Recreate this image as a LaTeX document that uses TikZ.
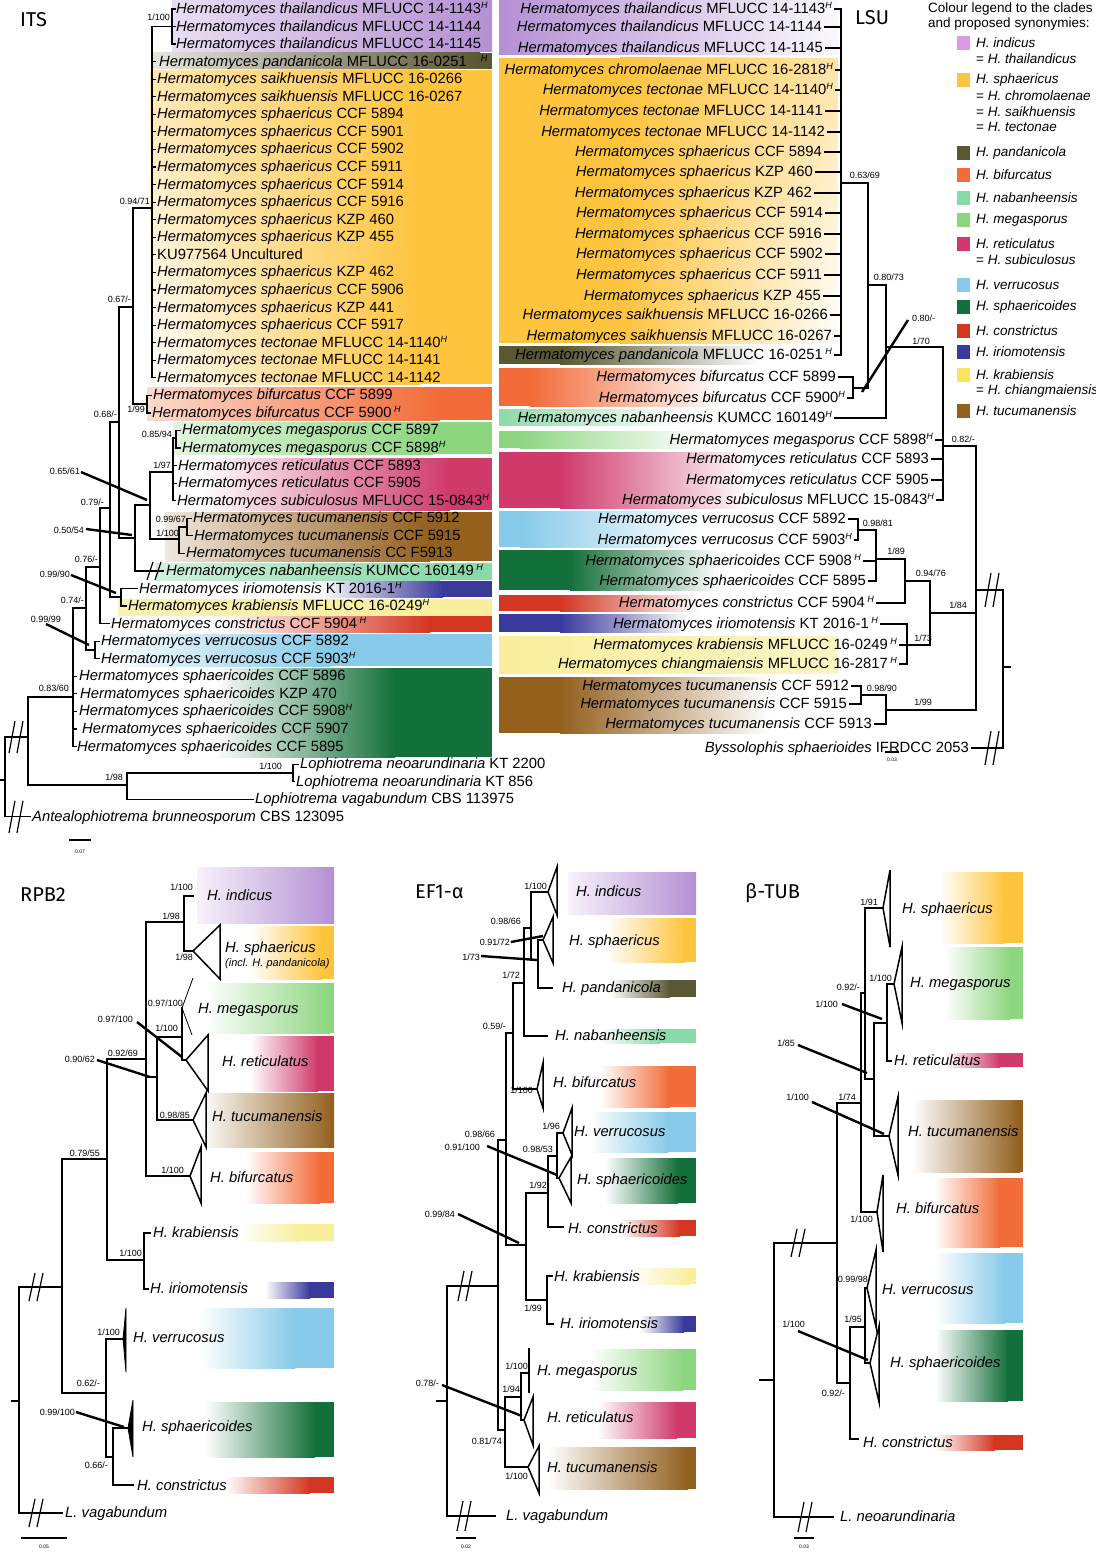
\documentclass[tikz,border=0pt]{standalone}
\usepackage{fontspec}
\setmainfont{Liberation Sans}
\newfontfamily\ttlfont{Fira Sans}
\usetikzlibrary{fadings}
\definecolor{cInd}{HTML}{B490D4}
\definecolor{sInd}{HTML}{D99BE3}
\definecolor{cSph}{HTML}{FFC43D}
\definecolor{cPan}{HTML}{5A5733}
\definecolor{cBif}{HTML}{F26B38}
\definecolor{cNab}{HTML}{8BD9A9}
\definecolor{cMeg}{HTML}{8DD680}
\definecolor{cRet}{HTML}{CF3A6B}
\definecolor{cVer}{HTML}{87CAE9}
\definecolor{cSco}{HTML}{14703B}
\definecolor{cCon}{HTML}{D43621}
\definecolor{cIri}{HTML}{3A3A9D}
\definecolor{cKra}{HTML}{F8EE9C}
\definecolor{sKra}{HTML}{F9E45C}
\definecolor{cTuc}{HTML}{93601E}
\newcommand\tipf{\fontsize{14.8}{16}\selectfont}
\newcommand\supf{\fontsize{9}{10}\selectfont}
\newcommand\Hs{\raisebox{5pt}{\fontsize{9}{9}\selectfont\itshape H}}
\newcommand\Hm[1]{\textit{Hermatomyces #1}}
\newcommand\gbox[8]{%
  \fill[#7] (#1,#2) rectangle (#5+0.6,#4);
  \shade[left color=#7,right color=#8] (#5,#2) rectangle (#6,#4);
  \fill[#8] (#6-0.6,#2) rectangle (#3,#4);}
\newcommand\brk[3]{\draw[line width=1.2pt] (#1-7,#2+#3) -- (#1-1,#2-#3) (#1+1,#2+#3) -- (#1+7,#2-#3);}
\newcommand\tw[4]{\node[tipx,anchor=west] (#1) at (#2,#3) {#4};}
\newcommand\te[4]{\node[tipx,anchor=east] (#1) at (#2,#3) {#4};}
\newcommand\sv[4]{\node[supv,anchor=east] (#1) at (#2,#3) {#4};}
\begin{document}
\begin{tikzpicture}[x=1pt,y=-1pt,
 tipx/.style={font=\tipf,inner sep=0pt,text height=11pt,text depth=2pt},
 supv/.style={font=\supf,inner sep=0pt,text height=6.5pt,text depth=0pt},
 ttl/.style={font=\ttlfont\fontsize{20}{22}\selectfont,inner sep=0pt},
 lgt/.style={font=\fontsize{13.5}{15}\selectfont,inner sep=0pt},
 brl/.style={line width=1.2pt,line cap=rect},
 lbr/.style={line width=1.6pt,line cap=rect},
 bbr/.style={line width=1.5pt,line cap=rect},
 ptrl/.style={line width=2.4pt},
 thn/.style={line width=0.8pt},
 scl/.style={font=\fontsize{5}{5}\selectfont,inner sep=0pt}]
\useasboundingbox (0,0) rectangle (1095,1554);
\fill[white] (0,0) rectangle (1095,1554);

% ================= ITS boxes =================
\gbox{172}{0}{492}{52}{172}{492}{cInd!30}{cInd}
\gbox{152}{53}{492}{69}{152}{480}{cPan!15}{cPan}
\gbox{150}{70}{492}{384}{150}{420}{white}{cSph}
\fill[cSph, path fading=south, fill opacity=0.4] (150,70) rectangle (420,384);
\gbox{147}{387}{492}{420}{147}{440}{cBif!25}{cBif}
\gbox{173}{422}{492}{454}{173}{433}{cMeg!25}{cMeg}
\gbox{173}{458}{492}{510}{200}{450}{white}{cRet}
\gbox{165}{512}{492}{561}{165}{430}{cTuc!15}{cTuc}
\gbox{155}{563}{492}{580}{155}{440}{cNab!40}{cNab}
\gbox{135}{581}{492}{597}{320}{443}{white}{cIri}
\gbox{118}{599}{492}{615}{118}{492}{cKra!80}{cKra}
\gbox{100}{616}{492}{632}{220}{430}{white}{cCon}
\gbox{90}{634}{492}{666}{100}{330}{white}{cVer}
\gbox{75}{668}{492}{757}{214}{395}{white}{cSco}

% ================= LSU boxes =================
\gbox{499}{0}{838}{55}{499}{830}{cInd}{cInd!8}
\gbox{499}{58}{838}{343}{620}{835}{cSph}{white}
\fill[cSph, path fading=south, fill opacity=0.45] (620,58) rectangle (838,343);
\gbox{499}{346}{760}{364}{560}{760}{cPan}{white}
\gbox{499}{368}{720}{406}{530}{720}{cBif}{white}
\gbox{499}{409}{680}{425}{499}{680}{cNab}{white}
\gbox{499}{431}{700}{448}{520}{700}{cMeg}{white}
\gbox{499}{452}{750}{508}{560}{750}{cRet}{white}
\gbox{499}{511}{700}{547}{520}{700}{cVer}{white}
\gbox{499}{550}{720}{590}{570}{720}{cSco}{white}
\gbox{499}{595}{700}{611}{560}{700}{cCon}{white}
\gbox{499}{614}{690}{632}{560}{690}{cIri}{white}
\gbox{499}{636}{838}{673}{499}{838}{cKra}{cKra!60}
\gbox{499}{677}{770}{733}{560}{770}{cTuc}{white}

% ================= bottom boxes =================
\gbox{197}{867}{334}{923}{197}{334}{cInd!12}{cInd}
\gbox{197}{926}{334}{979}{250}{322}{white}{cSph}
\gbox{197}{983}{334}{1033}{205}{330}{white}{cMeg}
\gbox{197}{1036}{334}{1091}{250}{318}{white}{cRet}
\gbox{197}{1093}{334}{1147}{200}{334}{white}{cTuc}
\gbox{197}{1152}{334}{1203}{245}{320}{white}{cBif}
\gbox{197}{1224}{334}{1241}{238}{300}{white}{cKra}
\gbox{197}{1282}{334}{1298}{265}{310}{white}{cIri}
\gbox{197}{1308}{334}{1368}{200}{295}{white}{cVer}
\gbox{197}{1402}{334}{1457}{205}{315}{white}{cSco}
\gbox{197}{1477}{334}{1493}{225}{310}{white}{cCon}

\gbox{568}{872}{696}{914}{568}{696}{cInd!12}{cInd}
\gbox{568}{918}{696}{962}{605}{685}{white}{cSph}
\gbox{600}{980}{696}{997}{610}{670}{white}{cPan}
\gbox{600}{1029}{696}{1043}{600}{660}{white}{cNab}
\gbox{568}{1066}{696}{1107}{600}{670}{white}{cBif}
\gbox{568}{1112}{696}{1152}{590}{668}{white}{cVer}
\gbox{568}{1158}{696}{1203}{605}{678}{white}{cSco}
\gbox{600}{1220}{696}{1236}{620}{680}{white}{cCon}
\gbox{600}{1268}{696}{1284}{630}{690}{white}{cKra}
\gbox{600}{1316}{696}{1332}{640}{684}{white}{cIri}
\gbox{560}{1349}{696}{1390}{590}{683}{white}{cMeg}
\gbox{560}{1402}{696}{1438}{597}{677}{white}{cRet}
\gbox{545}{1447}{696}{1489}{547}{688}{white}{cTuc}

\gbox{938}{872}{1023}{943}{940}{1005}{white}{cSph}
\gbox{938}{947}{1023}{1019}{945}{1010}{white}{cMeg}
\gbox{943}{1053}{1023}{1067}{945}{1000}{white}{cRet}
\gbox{910}{1100}{1023}{1172}{912}{1020}{white}{cTuc}
\gbox{935}{1178}{1023}{1247}{935}{1000}{white}{cBif}
\gbox{935}{1253}{1023}{1323}{935}{1005}{white}{cVer}
\gbox{935}{1330}{1023}{1401}{935}{1008}{white}{cSco}
\gbox{930}{1435}{1023}{1450}{935}{995}{white}{cCon}

% ================= titles =================
\node[ttl,anchor=west] (tITS) at (20,20) {ITS};
\node[ttl,anchor=west] (tLSU) at (855,18) {LSU};
\node[ttl,anchor=west] (tRPB) at (20,895) {RPB2};
\node[ttl,anchor=west] (tEF) at (415,892) {EF1-α};
\node[ttl,anchor=west] (tTUB) at (745,893) {β-TUB};

% ================= ITS texts =================
\tw{i0}{176}{9}{\Hm{thailandicus} MFLUCC 14-1143\Hs}
\tw{i1}{176}{26.6}{\Hm{thailandicus} MFLUCC 14-1144}
\tw{i2}{176}{44.1}{\Hm{thailandicus} MFLUCC 14-1145}
\tw{i3}{159}{61.7}{\Hm{pandanicola} MFLUCC 16-0251\hspace{14pt}\Hs}
\tw{i4}{157}{79.2}{\Hm{saikhuensis} MFLUCC 16-0266}
\tw{i5}{157}{96.8}{\Hm{saikhuensis} MFLUCC 16-0267}
\tw{i6}{157}{114.4}{\Hm{sphaericus} CCF 5894}
\tw{i7}{157}{131.9}{\Hm{sphaericus} CCF 5901}
\tw{i8}{157}{149.5}{\Hm{sphaericus} CCF 5902}
\tw{i9}{157}{167}{\Hm{sphaericus} CCF 5911}
\tw{i10}{157}{184.6}{\Hm{sphaericus} CCF 5914}
\tw{i11}{157}{202.2}{\Hm{sphaericus} CCF 5916}
\tw{i12}{157}{219.7}{\Hm{sphaericus} KZP 460}
\tw{i13}{157}{237.3}{\Hm{sphaericus} KZP 455}
\tw{i14}{157}{254.8}{KU977564 Uncultured}
\tw{i15}{157}{272.4}{\Hm{sphaericus} KZP 462}
\tw{i16}{157}{290}{\Hm{sphaericus} CCF 5906}
\tw{i17}{157}{307.5}{\Hm{sphaericus} KZP 441}
\tw{i18}{157}{325.1}{\Hm{sphaericus} CCF 5917}
\tw{i19}{157}{342.6}{\Hm{tectonae} MFLUCC 14-1140\Hs}
\tw{i20}{157}{360.2}{\Hm{tectonae} MFLUCC 14-1141}
\tw{i21}{157}{377.8}{\Hm{tectonae} MFLUCC 14-1142}
\tw{i22}{153}{395.3}{\Hm{bifurcatus} CCF 5899}
\tw{i23}{152}{412.9}{\Hm{bifurcatus} CCF 5900\,\Hs}
\tw{i24}{182}{430.4}{\Hm{megasporus} CCF 5897}
\tw{i25}{182}{448}{\Hm{megasporus} CCF 5898\Hs}
\tw{i26}{178}{465.6}{\Hm{reticulatus} CCF 5893}
\tw{i27}{178}{483.1}{\Hm{reticulatus} CCF 5905}
\tw{i28}{177}{500.7}{\Hm{subiculosus} MFLUCC 15-0843\Hs}
\tw{i29}{193}{518.2}{\Hm{tucumanensis} CCF 5912}
\tw{i30}{194}{535.8}{\Hm{tucumanensis} CCF 5915}
\tw{i31}{186}{553.4}{\Hm{tucumanensis} CC F5913}
\tw{i32}{166}{570.9}{\Hm{nabanheensis} KUMCC 160149\,\Hs}
\tw{i33}{139}{588.5}{\Hm{iriomotensis} KT 2016-1\Hs}
\tw{i34}{128}{606}{\Hm{krabiensis} MFLUCC 16-0249\Hs}
\tw{i35}{111}{623.6}{\Hm{constrictus} CCF 5904\,\Hs}
\tw{i36}{101}{641.2}{\Hm{verrucosus} CCF 5892}
\tw{i37}{101}{658.7}{\Hm{verrucosus} CCF 5903\Hs}
\tw{i38}{79}{676.3}{\Hm{sphaericoides} CCF 5896}
\tw{i39}{80}{693.8}{\Hm{sphaericoides} KZP 470}
\tw{i40}{79}{711.4}{\Hm{sphaericoides} CCF 5908\Hs}
\tw{i41}{82}{729}{\Hm{sphaericoides} CCF 5907}
\tw{i42}{77}{746.5}{\Hm{sphaericoides} CCF 5895}
\tw{i43}{300}{764.1}{\textit{Lophiotrema neoarundinaria} KT 2200}
\tw{i44}{296}{781.6}{\textit{Lophiotrema neoarundinaria} KT 856}
\tw{i45}{255}{799.2}{\textit{Lophiotrema vagabundum} CBS 113975}
\tw{i46}{32}{816.8}{\textit{Antealophiotrema brunneosporum} CBS 123095}

% ITS tree
\draw[brl] (152,26.6)--(172,26.6) (172,9)--(172,44.1) (172,9)--(175,9) (172,26.6)--(175,26.6) (172,44.1)--(175,44.1);
\draw[brl] (152,26.6)--(152,377.8);
\foreach \yy in {61.7,79.2,96.8,114.4,131.9,149.5,167,184.6,202.2,219.7,237.3,254.8,272.4,290,307.5,325.1,342.6,360.2,377.8} {\draw[brl] (152,\yy)--(155.5,\yy);}
\draw[brl] (133,208)--(152,208) (133,208)--(133,404) (133,404)--(147,404) (147,395.3)--(147,412.9) (147,395.3)--(151,395.3) (147,412.9)--(150,412.9);
\draw[brl] (119,307)--(133,307) (119,307)--(119,538) (110,422)--(119,422);
\draw[brl] (119,538)--(135,538) (135,505)--(135,570.9) (135,505)--(150,505) (150,472)--(150,539) (150,472)--(173,472) (173,438)--(173,500.7) (173,438)--(176,438) (176,430.4)--(176,448) (176,430.4)--(180,430.4) (176,448)--(180,448) (173,465.6)--(176.5,465.6) (173,483.1)--(176.5,483.1) (173,500.7)--(175.5,500.7);
\draw[brl] (150,539)--(179,539) (179,527)--(179,553.4) (179,527)--(187,527) (187,518.2)--(187,535.8) (187,518.2)--(191,518.2) (187,535.8)--(192,535.8) (179,553.4)--(184,553.4);
\draw[brl] (135,570.9)--(163,570.9);
\brk{154}{570.9}{9}
\draw[brl] (100,508)--(110,508) (110,422)--(110,597) (110,597)--(121,597) (121,588.5)--(121,606) (121,588.5)--(137,588.5) (121,606)--(126,606);
\draw[brl] (86,567)--(100,567) (100,508)--(100,623.6) (100,623.6)--(109,623.6);
\draw[brl] (73,608)--(86,608) (86,567)--(86,650) (86,650)--(95,650) (95,641.2)--(95,658.7) (95,641.2)--(99,641.2) (95,658.7)--(99,658.7);
\draw[brl] (28,697)--(73,697) (73,608)--(73,746.5);
\foreach \yy in {676.3,693.8,711.4,729,746.5} {\draw[brl] (73,\yy)--(76,\yy);}
\draw[brl] (28,697)--(28,785) (28,785)--(127,785) (127,773)--(127,799.2) (127,773)--(293,773) (293,764.1)--(293,781.6) (293,764.1)--(298,764.1) (293,781.6)--(294.5,781.6) (127,799.2)--(253,799.2);
\draw[brl] (5,737)--(5,816.8) (0,780)--(5,780) (5,737)--(28,737) (5,816.8)--(30,816.8);
\brk{16}{737}{16}
\brk{16}{816.8}{16}
\draw[ptrl] (81,472)--(147,500);
\draw[ptrl] (86,529)--(132,535);
\draw[ptrl] (71,575)--(116,593);
\draw[ptrl] (46,624)--(89,645);
\sv{s1}{170}{17}{1/100}
\sv{s2}{150}{201}{0.94/71}
\sv{s3}{131}{299}{0.67/-}
\sv{s4}{145}{409}{1/99}
\sv{s5}{117}{414}{0.68/-}
\sv{s6}{172}{434}{0.85/94}
\sv{s7}{171}{465}{1/97}
\sv{s8}{80}{471}{0.65/61}
\sv{s9}{104}{502}{0.79/-}
\sv{s10}{186}{519}{0.99/67}
\sv{s11}{179}{533}{1/100}
\sv{s12}{84}{530}{0.50/54}
\sv{s13}{98}{559}{0.76/-}
\sv{s14}{70}{574}{0.99/90}
\sv{s15}{84}{600}{0.74/-}
\sv{s16}{61}{619}{0.99/99}
\sv{s17}{69}{688}{0.83/60}
\sv{s18}{123}{777}{1/98}
\sv{s19}{282}{766}{1/100}
\draw[brl] (70,840)--(90,840);
\node[scl] (itssc) at (80,852) {0.07};

% ================= LSU texts =================
\te{l0}{832}{9}{\Hm{thailandicus} MFLUCC 14-1143\Hs}
\te{l1}{822}{27}{\Hm{thailandicus} MFLUCC 14-1144}
\te{l2}{823}{48}{\Hm{thailandicus} MFLUCC 14-1145}
\te{l3}{833}{70}{\Hm{chromolaenae} MFLUCC 16-2818\Hs}
\te{l4}{833}{90}{\Hm{tectonae} MFLUCC 14-1140\Hs}
\te{l5}{823}{111}{\Hm{tectonae} MFLUCC 14-1141}
\te{l6}{825}{132}{\Hm{tectonae} MFLUCC 14-1142}
\te{l7}{822}{152}{\Hm{sphaericus} CCF 5894}
\te{l8}{813}{172}{\Hm{sphaericus} KZP 460}
\te{l9}{812}{193}{\Hm{sphaericus} KZP 462}
\te{l10}{823}{213}{\Hm{sphaericus} CCF 5914}
\te{l11}{822}{234}{\Hm{sphaericus} CCF 5916}
\te{l12}{823}{254}{\Hm{sphaericus} CCF 5902}
\te{l13}{822}{275}{\Hm{sphaericus} CCF 5911}
\te{l14}{821}{296}{\Hm{sphaericus} KZP 455}
\te{l15}{828}{315}{\Hm{saikhuensis} MFLUCC 16-0266}
\te{l16}{832}{336}{\Hm{saikhuensis} MFLUCC 16-0267}
\te{l17}{832}{355}{\Hm{pandanicola} MFLUCC 16-0251\,\Hs}
\te{l18}{836}{377}{\Hm{bifurcatus} CCF 5899}
\te{l19}{845}{398}{\Hm{bifurcatus} CCF 5900\Hs}
\te{l20}{832}{418}{\Hm{nabanheensis} KUMCC 160149\Hs}
\te{l21}{933}{440}{\Hm{megasporus} CCF 5898\Hs}
\te{l22}{929}{459}{\Hm{reticulatus} CCF 5893}
\te{l23}{929}{480}{\Hm{reticulatus} CCF 5905}
\te{l24}{934}{500}{\Hm{subiculosus} MFLUCC 15-0843\Hs}
\te{l25}{846}{519}{\Hm{verrucosus} CCF 5892}
\te{l26}{852}{540}{\Hm{verrucosus} CCF 5903\Hs}
\te{l27}{861}{561}{\Hm{sphaericoides} CCF 5908\,\Hs}
\te{l28}{866}{581}{\Hm{sphaericoides} CCF 5895}
\te{l29}{874}{603}{\Hm{constrictus} CCF 5904\,\Hs}
\te{l30}{878}{624}{\Hm{iriomotensis} KT 2016-1\,\Hs}
\te{l31}{897}{645}{\Hm{krabiensis} MFLUCC 16-0249\,\Hs}
\te{l32}{897}{664}{\Hm{chiangmaiensis} MFLUCC 16-2817\,\Hs}
\te{l33}{849}{686}{\Hm{tucumanensis} CCF 5912}
\te{l34}{847}{704}{\Hm{tucumanensis} CCF 5915}
\te{l35}{872}{724}{\Hm{tucumanensis} CCF 5913}
\te{l36}{969}{748}{\textit{Byssolophis sphaerioides} IFRDCC 2053}

% LSU tree
\draw[lbr] (841,9)--(841,355);
\foreach \n/\yy in {l0/9,l1/27,l2/48,l3/70,l4/90,l5/111,l6/132,l7/152,l8/172,l9/193,l10/213,l11/234,l12/254,l13/275,l14/296,l15/315,l16/336,l17/355}
  {\draw[lbr] ([xshift=3pt]\n.east) -- (841,\yy);}
\draw[lbr] (841,183)--(868,183);
\draw[lbr] ([xshift=3pt]l18.east)--(853,377) ([xshift=3pt]l19.east)--(853,398) (853,377)--(853,398) (853,388)--(868,388);
\draw[lbr] (868,183)--(868,388) (868,285)--(886,285);
\draw[lbr] ([xshift=3pt]l20.east)--(886,418) (886,285)--(886,418) (886,347)--(943,347);
\foreach \n/\yy in {l21/440,l22/459,l23/480,l24/500} {\draw[lbr] ([xshift=3pt]\n.east) -- (943,\yy);}
\draw[lbr] (943,347)--(943,500) (943,446)--(976,446);
\draw[lbr] ([xshift=3pt]l25.east)--(858,519) ([xshift=3pt]l26.east)--(858,540) (858,519)--(858,540) (858,530)--(876,530);
\draw[lbr] ([xshift=3pt]l27.east)--(876,561) ([xshift=3pt]l28.east)--(876,581) (876,530)--(876,581) (876,559)--(905,559);
\draw[lbr] ([xshift=3pt]l29.east)--(905,603) (905,559)--(905,603) (905,581)--(930,581);
\draw[lbr] ([xshift=3pt]l30.east)--(907,624) ([xshift=3pt]l31.east)--(907,645) ([xshift=3pt]l32.east)--(907,664) (907,624)--(907,664) (907,645)--(930,645);
\draw[lbr] (930,581)--(930,645) (930,613)--(976,613);
\draw[lbr] ([xshift=3pt]l33.east)--(861,686) ([xshift=3pt]l34.east)--(861,704) (861,686)--(861,704) (861,695)--(886,695);
\draw[lbr] ([xshift=3pt]l35.east)--(886,724) (886,695)--(886,724) (886,710)--(976,710);
\draw[lbr] (976,446)--(976,710) (976,590)--(1003,590) (1003,590)--(1003,748) (1003,667)--(1010,667) ([xshift=3pt]l36.east)--(1003,748);
\brk{992}{590}{17}
\brk{992}{748}{17}
\draw[ptrl] (908,320)--(862,392);
\sv{m1}{880}{175}{0.63/69}
\sv{m2}{904}{277}{0.80/73}
\node[supv,anchor=west] (m3) at (912,318) {0.80/-};
\sv{m4}{930}{341}{1/70}
\sv{m5}{975}{439}{0.82/-}
\sv{m6}{893}{523}{0.98/81}
\sv{m7}{905}{551}{1/89}
\sv{m8}{946}{573}{0.94/76}
\sv{m9}{932}{638}{1/73}
\sv{m10}{967}{605}{1/84}
\sv{m11}{897}{688}{0.98/90}
\sv{m12}{932}{702}{1/99}
\draw[brl] (886,752)--(898,752);
\node[scl] (lsusc) at (892,760) {0.03};

% ================= legend =================
\node[lgt,anchor=west] (lg0) at (928,9) {Colour legend to the clades};
\node[lgt,anchor=west] (lg1) at (928,24) {and proposed synonymies:};
\foreach \c/\yy in {sInd/43,cSph/80,cPan/153,cBif/175,cNab/198,cMeg/220,cRet/244,cVer/285,cSco/307,cCon/331,cIri/352,sKra/375,cTuc/411}
  {\fill[\c] (957,\yy-7) rectangle (970,\yy+7);}
\node[lgt,anchor=west] (g1) at (976,43) {\textit{H. indicus}};
\node[lgt,anchor=west] (g1a) at (976,59) {= \textit{H. thailandicus}};
\node[lgt,anchor=west] (g2) at (976,80) {\textit{H. sphaericus}};
\node[lgt,anchor=west] (g2a) at (976,96) {= \textit{H. chromolaenae}};
\node[lgt,anchor=west] (g2b) at (976,112) {= \textit{H. saikhuensis}};
\node[lgt,anchor=west] (g2c) at (976,127) {= \textit{H. tectonae}};
\node[lgt,anchor=west] (g3) at (976,153) {\textit{H. pandanicola}};
\node[lgt,anchor=west] (g4) at (976,175) {\textit{H. bifurcatus}};
\node[lgt,anchor=west] (g5) at (976,198) {\textit{H. nabanheensis}};
\node[lgt,anchor=west] (g6) at (976,220) {\textit{H. megasporus}};
\node[lgt,anchor=west] (g7) at (976,244) {\textit{H. reticulatus}};
\node[lgt,anchor=west] (g7a) at (976,260) {= \textit{H. subiculosus}};
\node[lgt,anchor=west] (g8) at (976,285) {\textit{H. verrucosus}};
\node[lgt,anchor=west] (g9) at (976,307) {\textit{H. sphaericoides}};
\node[lgt,anchor=west] (g10) at (976,331) {\textit{H. constrictus}};
\node[lgt,anchor=west] (g11) at (976,352) {\textit{H. iriomotensis}};
\node[lgt,anchor=west] (g12) at (976,375) {\textit{H. krabiensis}};
\node[lgt,anchor=west] (g12a) at (976,391) {= \textit{H. chiangmaiensis}};
\node[lgt,anchor=west] (g13) at (976,411) {\textit{H. tucumanensis}};

% ================= RPB2 =================
\tw{r1}{207}{896}{\textit{H. indicus}}
\tw{r2}{225}{948}{\textit{H. sphaericus}}
\node[font=\fontsize{11}{12}\selectfont\itshape,inner sep=0pt,anchor=west] (r2b) at (225,964) {(incl. H. pandanicola)};
\tw{r3}{198}{1009}{\textit{H. megasporus}}
\tw{r4}{222}{1062}{\textit{H. reticulatus}}
\tw{r5}{212}{1117}{\textit{H. tucumanensis}}
\tw{r6}{210}{1178}{\textit{H. bifurcatus}}
\tw{r7}{153}{1233}{\textit{H. krabiensis}}
\tw{r8}{150}{1289}{\textit{H. iriomotensis}}
\tw{r9}{133}{1338}{\textit{H. verrucosus}}
\tw{r10}{142}{1427}{\textit{H. sphaericoides}}
\tw{r11}{137}{1486}{\textit{H. constrictus}}
\tw{r12}{65}{1513}{\textit{L. vagabundum}}
\draw[bbr] (184,896)--(193,896) (184,896)--(184,951) (184,951)--(193,951) (146,922)--(184,922);
\draw[bbr] (193,951)--(220,925)--(220,979)--cycle;
\draw[bbr] (146,922)--(146,1176);
\draw[bbr] (157,1037)--(182,1037) (182,1008)--(182,1060) (182,1060)--(186,1060);
\draw[thn] (182,1008)--(193,978) (182,1008)--(192,1035);
\draw[bbr] (186,1060)--(208,1035)--(208,1091)--cycle;
\draw[bbr] (157,1037)--(157,1120) (146,1077)--(157,1077) (157,1120)--(193,1120);
\draw[bbr] (193,1120)--(206,1093)--(206,1147)--cycle;
\draw[bbr] (146,1176)--(190,1176);
\draw[bbr] (190,1176)--(201,1147)--(201,1203)--cycle;
\draw[bbr] (107,1059)--(146,1059) (107,1059)--(107,1260) (107,1260)--(144,1260) (144,1233)--(144,1289) (144,1233)--(150,1233) (144,1289)--(148,1289);
\draw[bbr] (62,1159)--(107,1159) (62,1159)--(62,1393) (62,1393)--(106,1393);
\draw[bbr] (106,1339)--(106,1457) (106,1339)--(123,1339) (106,1457)--(113,1457) (113,1428)--(113,1485) (113,1428)--(128,1428) (113,1485)--(133,1485);
\filldraw[line width=0.8pt] (123,1339)--(126,1308)--(126,1372)--cycle;
\filldraw[line width=0.8pt] (128,1428)--(133,1400)--(133,1457)--cycle;
\draw[bbr] (19,1287)--(62,1287) (19,1287)--(19,1513) (12,1401)--(19,1401) (19,1513)--(62,1513);
\brk{36}{1287}{14}
\brk{36}{1513}{14}
\draw[ptrl] (137,1022)--(182,1057);
\draw[ptrl] (97,1060)--(150,1077);
\draw[ptrl] (76,1412)--(124,1427);
\sv{rs1}{193}{887}{1/100}
\sv{rs2}{180}{916}{1/98}
\sv{rs3}{193}{957}{1/98}
\sv{rs4}{183}{1003}{0.97/100}
\sv{rs5}{178}{1028}{1/100}
\sv{rs6}{133}{1019}{0.97/100}
\sv{rs7}{138}{1053}{0.92/69}
\sv{rs8}{95}{1059}{0.90/62}
\sv{rs9}{190}{1115}{0.98/85}
\sv{rs10}{184}{1170}{1/100}
\sv{rs11}{100}{1153}{0.79/55}
\sv{rs12}{142}{1253}{1/100}
\sv{rs13}{120}{1332}{1/100}
\sv{rs14}{100}{1383}{0.62/-}
\sv{rs15}{75}{1412}{0.99/100}
\sv{rs16}{108}{1465}{0.66/-}
\draw[brl] (22,1538)--(66,1538);
\node[scl] (rsc) at (44,1547) {0.05};

% ================= EF1-alpha =================
\tw{e1}{576}{892}{\textit{H. indicus}}
\tw{e2}{569}{941}{\textit{H. sphaericus}}
\tw{e3}{562}{988}{\textit{H. pandanicola}}
\tw{e4}{555}{1036}{\textit{H. nabanheensis}}
\tw{e5}{553}{1083}{\textit{H. bifurcatus}}
\tw{e6}{574}{1132}{\textit{H. verrucosus}}
\tw{e7}{577}{1180}{\textit{H. sphaericoides}}
\tw{e8}{568}{1229}{\textit{H. constrictus}}
\tw{e9}{554}{1277}{\textit{H. krabiensis}}
\tw{e10}{560}{1324}{\textit{H. iriomotensis}}
\tw{e11}{537}{1371}{\textit{H. megasporus}}
\tw{e12}{547}{1418}{\textit{H. reticulatus}}
\tw{e13}{547}{1468}{\textit{H. tucumanensis}}
\tw{e14}{506}{1516}{\textit{L. vagabundum}}
\draw[bbr] (531,892)--(548,892) (531,892)--(531,960) (524,928)--(531,928);
\draw[bbr] (548,892)--(557,867)--(557,915)--cycle;
\draw[bbr] (538,940)--(538,988) (531,960)--(538,960) (538,940)--(543,940) (538,988)--(552,988);
\draw[bbr] (543,940)--(553,917)--(553,963)--cycle;
\draw[bbr] (524,928)--(524,1036) (524,1036)--(547,1036) (513,983)--(524,983);
\draw[bbr] (513,983)--(513,1089) (513,1089)--(537,1089) (506,1033)--(513,1033);
\draw[bbr] (537,1089)--(543,1063)--(543,1108)--cycle;
\draw[bbr] (506,1033)--(506,1245) (498,1140)--(506,1140) (506,1245)--(526,1245);
\draw[bbr] (526,1193)--(526,1300) (526,1193)--(548,1193) (526,1300)--(547,1300);
\draw[bbr] (548,1156)--(548,1227) (548,1156)--(557,1156) (548,1227)--(563,1227);
\draw[bbr] (557,1133)--(557,1178) (557,1133)--(563,1133) (557,1178)--(559,1178);
\draw[bbr] (563,1133)--(572,1108)--(572,1155)--cycle;
\draw[bbr] (559,1178)--(571,1157)--(571,1203)--cycle;
\draw[bbr] (547,1276)--(547,1324) (547,1276)--(552,1276) (547,1324)--(553,1324);
\draw[bbr] (498,1140)--(498,1430) (498,1430)--(505,1430);
\draw[bbr] (505,1397)--(505,1467) (505,1397)--(521,1397) (505,1467)--(528,1467);
\draw[bbr] (528,1467)--(539,1446)--(539,1493)--cycle;
\draw[bbr] (521,1373)--(521,1420) (521,1373)--(529,1373) (521,1420)--(524,1420);
\draw[line width=2.6pt] (529,1348)--(529,1393);
\draw[bbr] (524,1420)--(533,1397)--(533,1445)--cycle;
\draw[bbr] (447,1286)--(498,1286) (447,1286)--(447,1516) (437,1401)--(447,1401) (447,1516)--(495,1516);
\brk{465}{1286}{15}
\brk{464}{1516}{15}
\draw[ptrl] (511,942)--(543,936);
\draw[ptrl] (481,956)--(537,960);
\draw[ptrl] (487,1146)--(557,1175);
\draw[ptrl] (458,1214)--(519,1243);
\draw[ptrl] (442,1385)--(522,1416);
\sv{es1}{547}{886}{1/100}
\sv{es2}{521}{921}{0.98/66}
\sv{es3}{510}{942}{0.91/72}
\sv{es4}{480}{957}{1/73}
\sv{es5}{520}{975}{1/72}
\sv{es6}{506}{1026}{0.59/-}
\sv{es7}{533}{1090}{1/100}
\sv{es8}{560}{1126}{1/96}
\sv{es9}{495}{1134}{0.98/66}
\sv{es10}{480}{1147}{0.91/100}
\sv{es11}{553}{1149}{0.98/53}
\sv{es12}{547}{1185}{1/92}
\sv{es13}{455}{1214}{0.99/84}
\sv{es14}{542}{1308}{1/99}
\sv{es15}{528}{1366}{1/100}
\sv{es16}{520}{1389}{1/94}
\sv{es17}{439}{1383}{0.78/-}
\sv{es18}{502}{1441}{0.81/74}
\sv{es19}{528}{1476}{1/100}
\draw[brl] (457,1538)--(475,1538);
\node[scl] (esc) at (466,1547) {0.02};

% ================= beta-TUB =================
\tw{b1}{902}{909}{\textit{H. sphaericus}}
\tw{b2}{910}{983}{\textit{H. megasporus}}
\tw{b3}{894}{1061}{\textit{H. reticulatus}}
\tw{b4}{908}{1132}{\textit{H. tucumanensis}}
\tw{b5}{896}{1209}{\textit{H. bifurcatus}}
\tw{b6}{882}{1290}{\textit{H. verrucosus}}
\tw{b7}{890}{1363}{\textit{H. sphaericoides}}
\tw{b8}{863}{1443}{\textit{H. constrictus}}
\tw{b9}{840}{1517}{\textit{L. neoarundinaria}}
\draw[bbr] (865,908)--(883,908) (865,908)--(865,1079) (861,993)--(865,993);
\draw[bbr] (883,908)--(890,870)--(890,947)--cycle;
\draw[bbr] (874,1023)--(874,1136) (865,1079)--(874,1079);
\draw[bbr] (887,984)--(887,1061) (874,1023)--(887,1023) (887,984)--(894,984) (887,1061)--(891,1061);
\draw[bbr] (894,984)--(902,947)--(902,1023)--cycle;
\draw[bbr] (874,1136)--(889,1136);
\draw[bbr] (889,1136)--(898,1097)--(898,1175)--cycle;
\draw[bbr] (861,993)--(861,1212) (861,1212)--(877,1212) (837,1103)--(861,1103);
\draw[bbr] (877,1212)--(883,1175)--(883,1252)--cycle;
\draw[bbr] (837,1103)--(837,1383) (774,1243)--(837,1243) (837,1383)--(850,1383);
\draw[bbr] (850,1327)--(850,1439) (850,1439)--(858,1439) (850,1327)--(865,1327);
\draw[bbr] (865,1288)--(865,1363) (865,1288)--(867,1288) (865,1363)--(870,1363);
\draw[bbr] (867,1288)--(876,1250)--(876,1327)--cycle;
\draw[bbr] (870,1363)--(879,1326)--(879,1402)--cycle;
\draw[bbr] (774,1243)--(774,1517) (760,1380)--(774,1380) (774,1517)--(833,1517);
\brk{798}{1243}{14}
\brk{805}{1517}{15}
\draw[ptrl] (842,1004)--(882,1019);
\draw[ptrl] (798,1045)--(867,1073);
\draw[ptrl] (812,1102)--(884,1134);
\draw[ptrl] (798,1331)--(868,1360);
\sv{bs1}{878}{902}{1/91}
\sv{bs2}{860}{987}{0.92/-}
\sv{bs3}{892}{978}{1/100}
\sv{bs4}{838}{1004}{1/100}
\sv{bs5}{795}{1043}{1/85}
\sv{bs6}{856}{1097}{1/74}
\sv{bs7}{809}{1097}{1/100}
\sv{bs8}{873}{1219}{1/100}
\sv{bs9}{868}{1279}{0.99/98}
\sv{bs10}{862}{1319}{1/95}
\sv{bs11}{805}{1324}{1/100}
\sv{bs12}{845}{1393}{0.92/-}
\draw[brl] (795,1538)--(813,1538);
\node[scl] (bsc) at (804,1547) {0.03};
\end{tikzpicture}
\end{document}
